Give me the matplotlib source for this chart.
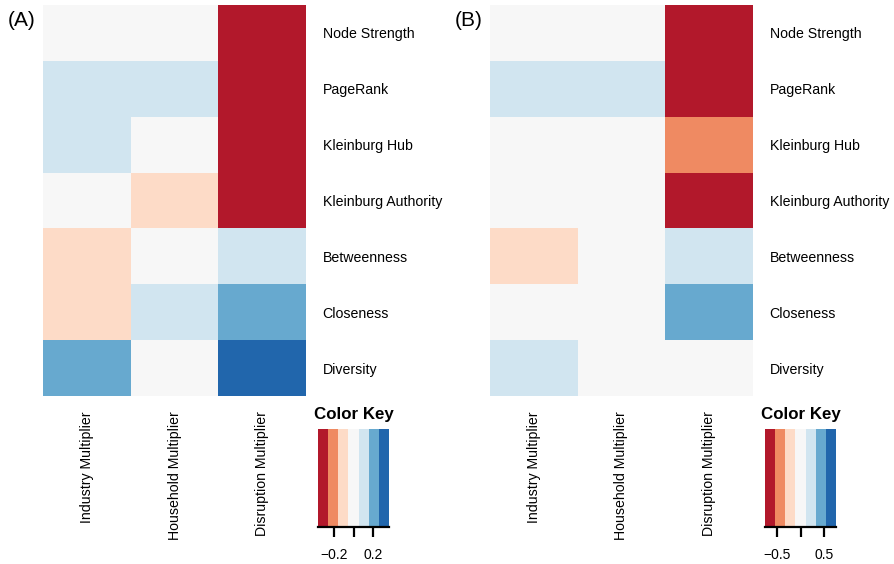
import numpy as np
import matplotlib
matplotlib.use("Agg")
import matplotlib.pyplot as plt
from matplotlib.colors import ListedColormap, BoundaryNorm

plt.rcParams['font.family'] = ['Liberation Sans', 'DejaVu Sans']

measures = ["Node Strength", "PageRank", "Kleinburg Hub", "Kleinburg Authority",
            "Betweenness", "Closeness", "Diversity"]
multipliers = ["Industry Multiplier", "Household Multiplier", "Disruption Multiplier"]

# rows = measures, cols = multipliers (correlations, estimated from colour bins)
corr_a = [[0.00, 0.00, -0.33],
          [0.12, 0.12, -0.33],
          [0.12, 0.00, -0.33],
          [0.00, -0.12, -0.33],
          [-0.12, 0.00, 0.12],
          [-0.12, 0.12, 0.22],
          [0.22, 0.00, 0.33]]
corr_b = [[0.00, 0.00, -0.70],
          [0.25, 0.25, -0.70],
          [0.00, 0.00, -0.45],
          [0.00, 0.00, -0.70],
          [-0.25, 0.00, 0.25],
          [0.00, 0.00, 0.45],
          [0.25, 0.00, 0.00]]

range_a = 0.36
range_b = 0.76
ticks_a = [-0.2, 0.0, 0.2]
ticks_b = [-0.5, 0.0, 0.5]

rdbu7 = ["#B2182B", "#EF8A62", "#FDDBC7", "#F7F7F7", "#D1E5F0", "#67A9CF", "#2166AC"]
cmap = ListedColormap(rdbu7)

W, H = 894, 564
fig = plt.figure(figsize=(W / 100, H / 100), dpi=100)


def px(x0, y0, x1, y1):
    return [x0 / W, 1 - y1 / H, (x1 - x0) / W, (y1 - y0) / H]


def panel(data, vrange, ticks, x0, letter):
    data = np.array(data)
    bounds = np.linspace(-vrange, vrange, 8)
    norm = BoundaryNorm(bounds, cmap.N)

    ax = fig.add_axes(px(x0, 5, x0 + 263, 396))
    ax.pcolormesh(data, cmap=cmap, norm=norm)
    ax.set_xlim(0, 3)
    ax.set_ylim(7, 0)
    for s in ax.spines.values():
        s.set_visible(False)
    ax.set_xticks(np.arange(3) + 0.5)
    ax.set_xticklabels(multipliers, rotation=90, fontsize=10.2, va="top")
    ax.tick_params(axis="x", length=0, pad=11)
    ax.yaxis.tick_right()
    ax.set_yticks(np.arange(7) + 0.5)
    ax.set_yticklabels(measures, fontsize=10.2)
    ax.tick_params(axis="y", length=0, pad=12)

    fig.text((x0 - 35) / W, 1 - 21 / H, letter, fontsize=15, va="center")

    # colour key
    cx0 = x0 + 275
    cax = fig.add_axes(px(cx0, 429, cx0 + 71, 527))
    cax.pcolormesh(bounds, [0, 1], np.array([(bounds[:-1] + bounds[1:]) / 2]),
                   cmap=cmap, norm=norm)
    cax.set_xlim(-vrange, vrange)
    cax.set_ylim(0, 1)
    cax.set_yticks([])
    for side in ["top", "left", "right"]:
        cax.spines[side].set_visible(False)
    cax.spines["bottom"].set_linewidth(1.6)
    cax.set_xticks(ticks)
    cax.set_xticklabels(["\u2212" + str(abs(ticks[0])), "", str(ticks[2])], fontsize=10)
    cax.tick_params(axis="x", length=7, width=1.6, pad=8)
    cax.set_title("Color Key", fontsize=12.2, fontweight="bold", pad=7)


panel(corr_a, range_a, ticks_a, 43, "(A)")
panel(corr_b, range_b, ticks_b, 490, "(B)")

fig.savefig("out.png", dpi=100)
